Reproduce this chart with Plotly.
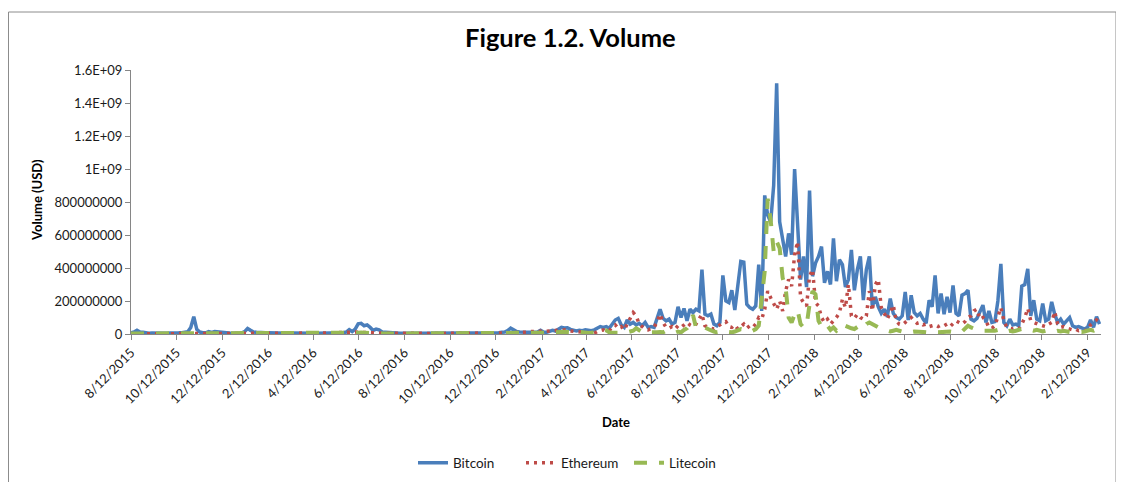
import pandas as pd
import plotly.graph_objects as go

# ---- data (values in millions of USD, sampled every 4 days from 2015-08-12) ----
start_date = "2015-08-12"
step_days = 4

bitcoin_m = [
    8, 12, 22, 12, 10, 6, 5, 6, 5, 5,
    6, 5, 5, 6, 5, 6, 7, 8, 10, 14,
    40, 105, 28, 12, 8, 7, 14, 10, 15, 12,
    14, 11, 8, 6, 6, 5, 6, 5, 14, 33,
    22, 12, 10, 8, 9, 7, 8, 7, 6, 5,
    5, 5, 4, 5, 6, 5, 4, 5, 5, 6,
    5, 4, 5, 5, 6, 5, 4, 5, 6, 5,
    6, 8, 12, 26, 15, 30, 62, 65, 50, 55,
    40, 22, 30, 25, 12, 10, 8, 7, 8, 6,
    5, 5, 4, 5, 6, 5, 4, 5, 5, 4,
    5, 6, 5, 4, 5, 5, 6, 5, 4, 5,
    5, 6, 5, 5, 4, 5, 6, 5, 5, 6,
    5, 6, 7, 8, 10, 12, 20, 35, 25, 15,
    12, 10, 12, 10, 11, 9, 12, 22, 12, 10,
    15, 22, 18, 30, 40, 36, 38, 28, 25, 18,
    22, 20, 25, 22, 20, 25, 35, 45, 40, 45,
    35, 60, 85, 95, 55, 40, 85, 60, 70, 55,
    65, 50, 70, 40, 45, 40, 90, 150, 95, 80,
    90, 60, 70, 165, 100, 155, 80, 150, 130, 150,
    140, 390, 120, 110, 120, 60, 50, 70, 355, 200,
    190, 265, 145, 300, 440, 435, 180, 160, 150, 170,
    420, 140, 840, 720, 680, 900, 1520, 680, 560, 470,
    610, 480, 1000, 630, 330, 470, 285, 870, 350, 430,
    470, 530, 310, 380, 300, 580, 320, 450, 420, 285,
    330, 510, 265, 390, 470, 205, 390, 470, 165, 225,
    165, 125, 150, 105, 215, 125, 100, 90, 110, 255,
    85, 235, 130, 110, 125, 90, 65, 205, 165, 355,
    125, 245, 120, 225, 130, 295, 125, 110, 235, 245,
    265, 90, 80, 95, 140, 175, 70, 140, 70, 75,
    200, 425, 70, 50, 90, 55, 60, 50, 290, 300,
    395, 110, 205, 90, 80, 185, 80, 90, 195, 120,
    70, 90, 60, 80, 100, 50, 40, 45, 35, 30,
    40, 85, 40, 105, 60,
]

ethereum_m = [
    1, 1, 1, 1, 1, 1, 1, 1, 1, 1,
    1, 1, 1, 1, 1, 1, 1, 1, 1, 1,
    1, 2, 1, 1, 1, 1, 1, 1, 1, 1,
    1, 1, 1, 1, 1, 1, 1, 2, 2, 2,
    2, 2, 2, 3, 3, 3, 3, 4, 4, 4,
    4, 5, 5, 4, 5, 4, 4, 5, 6, 5,
    4, 4, 5, 4, 4, 5, 6, 7, 8, 7,
    8, 9, 8, 9, 10, 12, 10, 9, 8, 10,
    7, 6, 6, 5, 5, 5, 4, 4, 5, 6,
    5, 6, 5, 5, 4, 5, 4, 4, 4, 3,
    3, 3, 4, 4, 3, 3, 3, 3, 3, 3,
    3, 2, 3, 3, 3, 4, 3, 3, 3, 3,
    3, 3, 4, 4, 5, 5, 6, 7, 8, 8,
    9, 10, 12, 14, 12, 15, 14, 18, 20, 16,
    18, 22, 20, 24, 22, 25, 20, 18, 15, 18,
    15, 10, 12, 8, 10, 5, 15, 20, 25, 15,
    20, 45, 55, 35, 45, 25, 60, 90, 130, 110,
    60, 45, 30, 25, 35, 40, 75, 120, 70, 40,
    35, 45, 30, 50, 40, 55, 70, 55, 45, 60,
    90, 120, 50, 40, 35, 30, 40, 55, 70, 75,
    45, 40, 55, 30, 45, 60, 35, 50, 40, 60,
    100, 90, 150, 260, 220, 180, 150, 200, 140, 260,
    330, 290, 480, 560, 220, 190, 170, 350, 390, 190,
    170, 100, 70, 90, 60, 80, 100, 130, 210, 160,
    300, 110, 95, 120, 100, 90, 110, 260, 140, 300,
    330, 160, 120, 90, 130, 175, 80, 60, 55, 70,
    90, 100, 80, 65, 70, 55, 60, 45, 50, 55,
    45, 55, 50, 60, 45, 65, 80, 70, 60, 75,
    100, 110, 140, 150, 90, 100, 80, 40, 35, 50,
    100, 160, 80, 40, 35, 30, 35, 30, 60, 100,
    155, 80, 70, 60, 55, 50, 45, 60, 70, 135,
    60, 40, 45, 35, 30, 25, 30, 20, 25, 20,
    25, 55, 70, 85, 70,
]

litecoin_m = [
    3, 3, 4, 3, 3, 2, 2, 2, 3, 2,
    2, 2, 3, 2, 2, 3, 2, 2, 3, 3,
    4, 6, 4, 3, 3, 2, 3, 3, 3, 2,
    3, 3, 2, 2, 2, 2, 3, 2, 3, 4,
    3, 3, 2, 2, 2, 2, 2, 2, 2, 2,
    2, 2, 2, 2, 2, 2, 2, 2, 2, 2,
    2, 2, 2, 2, 2, 2, 2, 2, 3, 3,
    3, 3, 3, 4, 5, 6, 8, 9, 7, 6,
    5, 4, 4, 3, 3, 3, 2, 2, 2, 2,
    2, 2, 2, 2, 2, 2, 2, 2, 2, 2,
    2, 2, 2, 2, 2, 2, 2, 2, 2, 2,
    2, 2, 2, 2, 2, 2, 2, 2, 2, 2,
    2, 2, 2, 3, 3, 3, 3, 4, 3, 3,
    3, 3, 3, 4, 3, 4, 5, 6, 8, 7,
    8, 10, 12, 15, 18, 14, 12, 10, 10, 15,
    12, 8, 10, 6, 8, 6, 10, 20, 25, 22,
    10, 8, 10, 12, 8, 6, 10, 15, 20, 35,
    20, 12, 10, 15, 10, 8, 10, 12, 10, 20,
    15, 10, 8, 15, 10, 25, 35, 60, 115, 40,
    30, 35, 40, 30, 20, 15, 10, 12, 15, 20,
    12, 10, 15, 20, 30, 25, 15, 12, 20, 30,
    50, 200, 380, 820, 690, 500, 560, 520, 340, 280,
    100, 70, 120, 145, 60, 40, 50, 180, 260, 240,
    80, 45, 30, 50, 25, 40, 20, 35, 60, 50,
    40, 35, 30, 45, 55, 40, 60, 70, 60, 45,
    40, 30, 25, 20, 15, 20, 25, 20, 15, 20,
    15, 12, 15, 12, 15, 12, 10, 12, 10, 12,
    10, 12, 10, 12, 15, 12, 10, 12, 15, 30,
    50, 40, 30, 25, 20, 20, 15, 20, 15, 20,
    25, 30, 20, 15, 20, 15, 20, 25, 30, 25,
    30, 25, 20, 25, 20, 15, 20, 15, 20, 15,
    20, 15, 20, 15, 12, 15, 12, 10, 12, 15,
    20, 25, 20, 30, 25,
]

x_tick_dates = [
    "2015-08-12", "2015-10-12", "2015-12-12", "2016-02-12", "2016-04-12",
    "2016-06-12", "2016-08-12", "2016-10-12", "2016-12-12", "2017-02-12",
    "2017-04-12", "2017-06-12", "2017-08-12", "2017-10-12", "2017-12-12",
    "2018-02-12", "2018-04-12", "2018-06-12", "2018-08-12", "2018-10-12",
    "2018-12-12", "2019-02-12",
]
x_tick_labels = [
    "8/12/2015", "10/12/2015", "12/12/2015", "2/12/2016", "4/12/2016",
    "6/12/2016", "8/12/2016", "10/12/2016", "12/12/2016", "2/12/2017",
    "4/12/2017", "6/12/2017", "8/12/2017", "10/12/2017", "12/12/2017",
    "2/12/2018", "4/12/2018", "6/12/2018", "8/12/2018", "10/12/2018",
    "12/12/2018", "2/12/2019",
]
y_tick_values = [0, 2e8, 4e8, 6e8, 8e8, 1e9, 1.2e9, 1.4e9, 1.6e9]
y_tick_labels = ["0", "200000000", "400000000", "600000000", "800000000",
                 "1E+09", "1.2E+09", "1.4E+09", "1.6E+09"]

dates = pd.date_range(start_date, periods=len(bitcoin_m), freq=f"{step_days}D")
bitcoin = [v * 1e6 for v in bitcoin_m]
ethereum = [v * 1e6 for v in ethereum_m]
litecoin = [v * 1e6 for v in litecoin_m]

FONT = "Lato"
TXT = "#1a1a1a"
AX = "#868686"

fig = go.Figure()
fig.add_trace(go.Scatter(x=dates, y=bitcoin, name="Bitcoin", mode="lines",
                         line=dict(color="#4A7EBB", width=3.5)))
fig.add_trace(go.Scatter(x=dates, y=ethereum, name="Ethereum", mode="lines",
                         line=dict(color="#BE4B48", width=3.5, dash="3px,5px")))
fig.add_trace(go.Scatter(x=dates, y=litecoin, name="Litecoin", mode="lines",
                         line=dict(color="#98B954", width=4, dash="13px,12px")))

# page body has an 8px default margin: the figure is drawn 8px right/down
OFF = 8
W, H = 1124 - OFF, 482 - OFF
PLOT_L, PLOT_R, PLOT_T, PLOT_B = 131, 1101, 70, 334      # screen pixels of the plot area
L = PLOT_L - OFF
T = PLOT_T - OFF
R = W - (PLOT_R - OFF)
B = H - (PLOT_B - OFF)
pw, ph = W - L - R, H - T - B

def px(xs):
    return (xs - PLOT_L) / pw

def py(ys):
    return (PLOT_B - ys) / ph

fig.update_layout(
    width=W, height=H,
    margin=dict(l=L, r=R, t=T, b=B, autoexpand=False),
    paper_bgcolor="white", plot_bgcolor="white",
    font=dict(family=FONT, size=13, color=TXT),
    showlegend=True,
    legend=dict(orientation="h", x=px(413), xanchor="left", y=py(463), yanchor="middle",
                entrywidth=63, entrywidthmode="pixels",
                font=dict(family=FONT, size=13.5, color=TXT), bgcolor="rgba(0,0,0,0)"),
    xaxis=dict(type="date", range=["2015-08-12", "2019-03-02"], automargin=False,
               tickmode="array", tickvals=x_tick_dates, ticktext=x_tick_labels,
               tickangle=-45, ticks="outside", ticklen=5, tickcolor=AX,
               showline=True, linecolor=AX, linewidth=1, showgrid=False, zeroline=False,
               tickfont=dict(family=FONT, size=13, color=TXT)),
    yaxis=dict(range=[0, 1.6e9], automargin=False, tickmode="array", tickvals=y_tick_values,
               ticktext=y_tick_labels, ticks="outside", ticklen=5, tickcolor=AX,
               showline=True, linecolor=AX, linewidth=1, showgrid=False, zeroline=False,
               tickfont=dict(family=FONT, size=13, color=TXT)),
    annotations=[
        dict(text="<b>Figure 1.2. Volume</b>", xref="paper", yref="paper",
             x=px(570), y=py(37), xanchor="center", yanchor="middle", showarrow=False,
             font=dict(family=FONT, size=25.5, color="#000000")),
        dict(text="<b>Date</b>", xref="paper", yref="paper", x=px(616), y=py(422),
             xanchor="center", yanchor="middle", showarrow=False,
             font=dict(family=FONT, size=13, color="#000000")),
        dict(text="<b>Volume (USD)</b>", xref="paper", yref="paper", x=px(37), y=py(200),
             xanchor="center", yanchor="middle", textangle=-90, showarrow=False,
             font=dict(family=FONT, size=13, color="#000000")),
    ],
    shapes=[
        dict(type="rect", xref="paper", yref="paper",
             x0=px(8.5), x1=px(1116), y0=py(520), y1=py(12),
             line=dict(color="#8c8c8c", width=1), fillcolor="rgba(0,0,0,0)", layer="below"),
    ],
)

fig.write_html("out.html")
